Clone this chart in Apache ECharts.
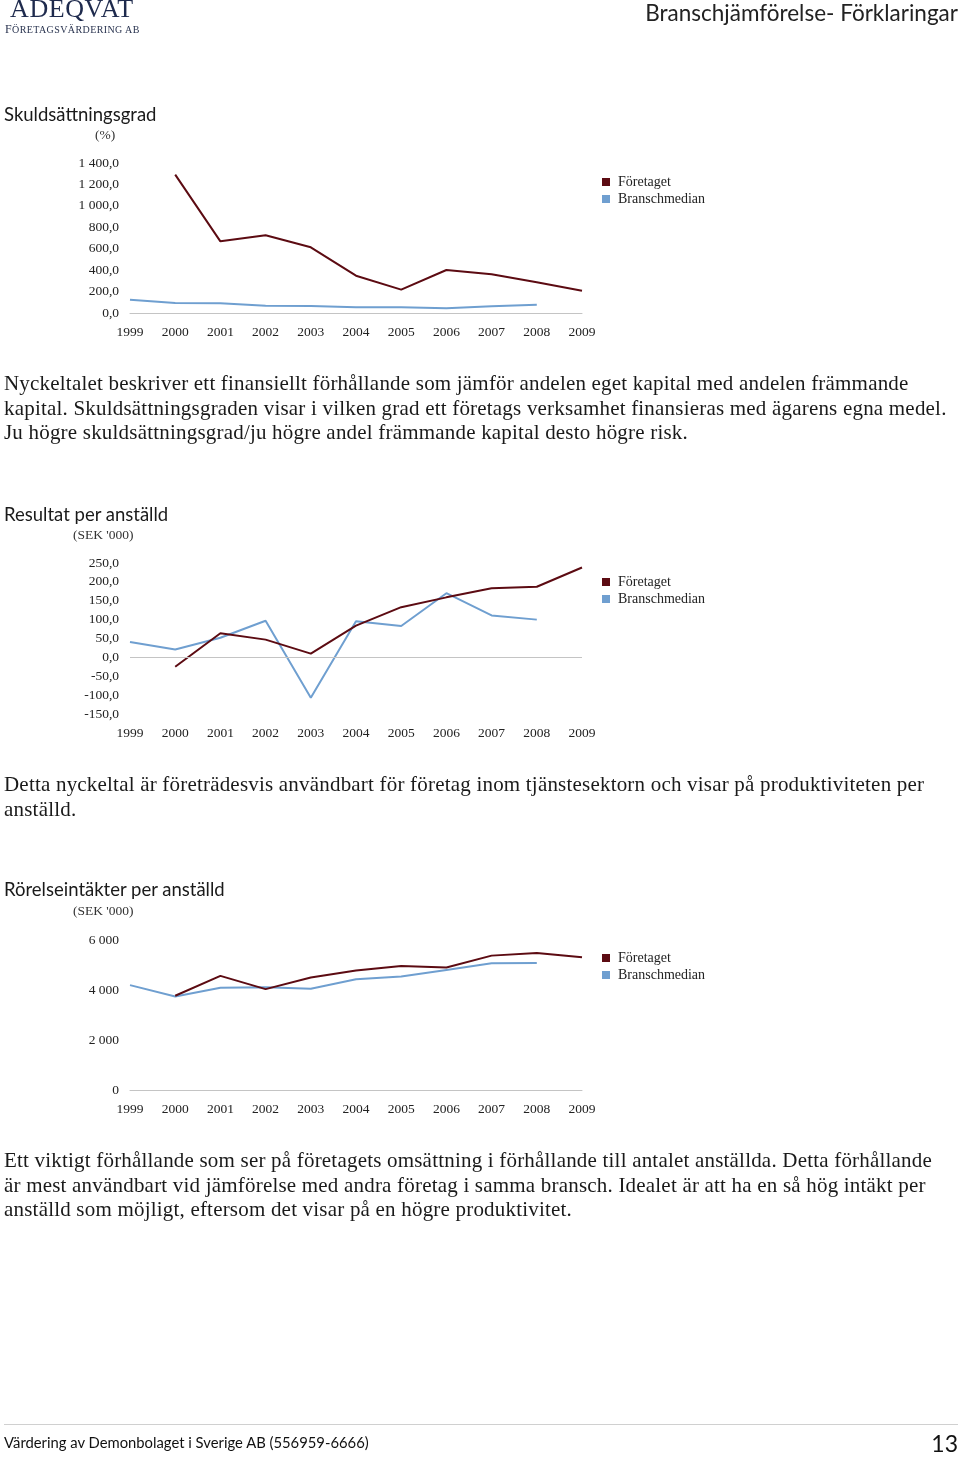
<!DOCTYPE html>
<html><head><meta charset="utf-8">
<script src="https://cdn.jsdelivr.net/npm/echarts@6/dist/echarts.min.js"></script>
<style>
html,body{margin:0;padding:0;background:#fff;}
#page{position:relative;width:960px;height:1457px;overflow:hidden;}
#chart{position:absolute;left:0;top:0;width:960px;height:1457px;}
.t{position:absolute;white-space:nowrap;color:#1a1a1a;}
.h{font-family:Lato,"Noto Sans",sans-serif;font-size:18.5px;}
.unit{font-family:"Liberation Serif",serif;font-size:13.5px;color:#333;}
.p{font-family:"Liberation Serif",serif;font-size:21px;letter-spacing:0.2px;line-height:24.5px;color:#1a1a1a;}
</style></head>
<body><div id="page">
<div id="chart"></div>
<div class="t" style="left:10px;top:-6px;font-family:'Liberation Serif',serif;font-size:26px;letter-spacing:0.6px;color:#1e2a4d;">ADEQVAT</div>
<div class="t" style="left:5px;top:22px;font-family:'Liberation Serif',serif;font-size:10px;letter-spacing:0.4px;color:#2a3450;"><span style="font-size:12px;">F</span>ÖRETAGSVÄRDERING AB</div>
<div class="t" style="right:2px;top:-1px;font-family:Lato,sans-serif;font-size:22.5px;color:#222;">Branschjämförelse- Förklaringar</div>

<div class="t h" style="left:4px;top:103px;">Skuldsättningsgrad</div>
<div class="t unit" style="left:95px;top:127px;">(%)</div>
<div class="t p" style="left:4px;top:371px;">Nyckeltalet beskriver ett finansiellt förhållande som jämför andelen eget kapital med andelen främmande<br>kapital. Skuldsättningsgraden visar i vilken grad ett företags verksamhet finansieras med ägarens egna medel.<br>Ju högre skuldsättningsgrad/ju högre andel främmande kapital desto högre risk.</div>

<div class="t h" style="left:4px;top:503px;">Resultat per anställd</div>
<div class="t unit" style="left:73px;top:527px;">(SEK '000)</div>
<div class="t p" style="left:4px;top:772px;">Detta nyckeltal är företrädesvis användbart för företag inom tjänstesektorn och visar på produktiviteten per<br>anställd.</div>

<div class="t h" style="left:4px;top:878px;">Rörelseintäkter per anställd</div>
<div class="t unit" style="left:73px;top:903px;">(SEK '000)</div>
<div class="t p" style="left:4px;top:1148px;">Ett viktigt förhållande som ser på företagets omsättning i förhållande till antalet anställda. Detta förhållande<br>är mest användbart vid jämförelse med andra företag i samma bransch. Idealet är att ha en så hög intäkt per<br>anställd som möjligt, eftersom det visar på en högre produktivitet.</div>

<div style="position:absolute;left:4px;top:1424px;width:954px;height:1px;background:#d0d0d0;"></div>
<div class="t" style="left:4px;top:1433px;font-family:Lato,sans-serif;font-size:14.8px;color:#111;">Värdering av Demonbolaget i Sverige AB (556959-6666)</div>
<div class="t" style="right:2px;top:1429px;font-family:Lato,sans-serif;font-size:23px;color:#111;">13</div>
</div>
<script>
const years = ['1999','2000','2001','2002','2003','2004','2005','2006','2007','2008','2009'];
const seriesNames = ['Företaget','Branschmedian'];
// Skuldsättningsgrad (%)
const debtCompany = [null,1291,669,725,613,348,218,401,361,286,208];
const debtMedian  = [124,93,90,68,65,53,53,44,62,78,null];
// Resultat per anställd (SEK '000)
const resCompany = [null,-25,64,47,10,84,133,159,183,187,238];
const resMedian  = [41,21,52,97,-107,96,83,170,111,100,null];
// Rörelseintäkter per anställd (SEK '000)
const revCompany = [null,3769,4565,4034,4499,4777,4963,4897,5375,5481,5308];
const revMedian  = [4194,3743,4088,4114,4048,4432,4539,4804,5070,5083,null];

const COL_C = '#5c0b12', COL_M = '#6f9fd0';
function fmt(v, dec){
  const neg = v < 0; let a = Math.abs(v);
  let s = dec ? a.toFixed(dec) : String(Math.round(a));
  let [ip, dp] = s.split('.');
  ip = ip.replace(/\B(?=(\d{3})+(?!\d))/g, ' ');
  return (neg?'-':'') + ip + (dp ? ',' + dp : '');
}
const lblFont = {fontFamily:'Liberation Serif', fontSize:13.5, color:'#222'};
const grids = [
  {left:130, width:452, top:163, height:150},
  {left:130, width:452, top:563, height:151},
  {left:130, width:452, top:940, height:150}
];
const xAxes = grids.map((g,i)=>({
  type:'category', gridIndex:i, data:years, boundaryGap:false,
  axisLine:{show:i!==1, onZero:false, lineStyle:{color:'#c4c4c4', width:1}},
  axisTick:{show:false},
  axisLabel:Object.assign({margin:12, interval:0}, lblFont)
}));
const yCfg = [[0,1400,200,1],[-150,250,50,1],[0,6000,2000,0]];
const yAxes = yCfg.map((c,i)=>({
  type:'value', gridIndex:i, min:c[0], max:c[1], interval:c[2],
  axisLine:{show:false}, axisTick:{show:false}, splitLine:{show:false},
  axisLabel:Object.assign({margin:11, formatter:v=>fmt(v,c[3])}, lblFont)
}));
const data = [[debtCompany,debtMedian],[resCompany,resMedian],[revCompany,revMedian]];
const series = [];
data.forEach((pair,i)=>{
  pair.forEach((arr,j)=>{
    const s = {
      name:seriesNames[j], type:'line', xAxisIndex:i, yAxisIndex:i, data:arr,
      symbol:'none', connectNulls:false, animation:false,
      lineStyle:{color:j===0?COL_C:COL_M, width:2}, itemStyle:{color:j===0?COL_C:COL_M},
      z: j===0?3:2
    };
    if(i===1 && j===0){
      s.markLine = {silent:true, symbol:'none', label:{show:false},
        lineStyle:{color:'#c4c4c4', width:1, type:'solid'}, data:[{yAxis:0}], animation:false};
    }
    series.push(s);
  });
});
const legendTops = [170, 570, 946];
const legends = legendTops.map(t=>({
  orient:'vertical', left:597, top:t, itemWidth:8, itemHeight:8, itemGap:3,
  icon:'rect', data:seriesNames, selectedMode:false,
  textStyle:{fontFamily:'Liberation Serif', fontSize:14, color:'#222', padding:[0,0,0,3]}
}));
const chart = echarts.init(document.getElementById('chart'), null, {renderer:'canvas'});
chart.setOption({animation:false, grid:grids, xAxis:xAxes, yAxis:yAxes, series:series, legend:legends});
</script>
</body></html>
